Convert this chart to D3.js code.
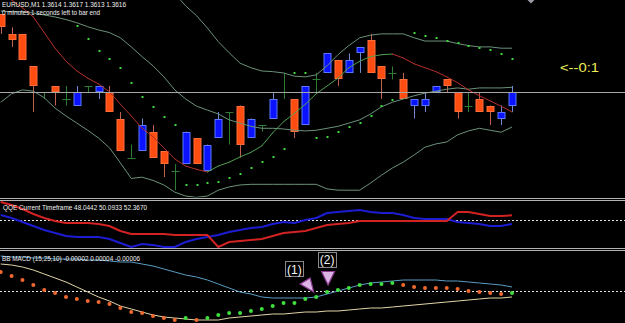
<!DOCTYPE html>
<html><head><meta charset="utf-8">
<script src="https://cdn.jsdelivr.net/npm/d3@7/dist/d3.min.js"></script>
<style>html,body{margin:0;padding:0;background:#000;overflow:hidden}svg{display:block}</style>
</head><body>
<script>
// ---------- DATA ----------
const symbolTitle = "EURUSD,M1  1.3614 1.3617 1.3613 1.3616";
const timerText = "0 minutes 1 seconds left to bar end";
const qqeTitle = "QQE Current Timeframe 48.0442 50.0933 52.3670";
const macdTitle = "BB MACD (15,25,10) -0.00002 0.00004 -0.00006";
const countdownText = "<--0:1";
const bidPrice = 1.3616;

const opens  = [1.3628,1.3625,1.3625,1.3620,1.3616,1.3617,1.3615,1.3614,1.3617,1.3616,1.3616,1.3612,1.3606,1.3607,1.3610,1.3607,1.3604,1.3605,1.3609,1.3604,1.3609,1.3613,1.3614,1.3609,1.3611,1.3612,1.3616,1.3615,1.3611,1.3618,1.3619,1.3621,1.3619,1.3622,1.3624,1.3620,1.3619,1.3618,1.3614,1.3614,1.3616,1.3618,1.3616,1.3614,1.3615,1.3614,1.3612,1.3614];
const highs  = [1.3628,1.3626,1.3625,1.3620,1.3616,1.3617,1.3617,1.3617,1.3617,1.3617,1.3617,1.3613,1.3608,1.3612,1.3611,1.3607,1.3605,1.3610,1.3609,1.3608,1.3613,1.3613,1.3614,1.3612,1.3611,1.3616,1.3619,1.3615,1.3617,1.3619,1.3622,1.3621,1.3622,1.3623,1.3625,1.3620,1.3620,1.3619,1.3615,1.3616,1.3617,1.3618,1.3616,1.3616,1.3616,1.3614,1.3614,1.3617];
const lows   = [1.3625,1.3623,1.3621,1.3613,1.3615,1.3614,1.3614,1.3614,1.3616,1.3615,1.3613,1.3607,1.3606,1.3607,1.3606,1.3603,1.3601,1.3605,1.3605,1.3604,1.3609,1.3608,1.3606,1.3609,1.3610,1.3612,1.3615,1.3609,1.3611,1.3616,1.3619,1.3617,1.3619,1.3619,1.3619,1.3615,1.3618,1.3615,1.3612,1.3613,1.3616,1.3616,1.3612,1.3613,1.3613,1.3611,1.3611,1.3613];
const closes = [1.3626,1.3624,1.3621,1.3617,1.3616,1.3616,1.3615,1.3616,1.3617,1.3617,1.3613,1.3607,1.3606,1.3611,1.3606,1.3605,1.3604,1.3610,1.3605,1.3608,1.3612,1.3613,1.3608,1.3612,1.3611,1.3615,1.3616,1.3610,1.3617,1.3618,1.3622,1.3618,1.3621,1.3623,1.3619,1.3618,1.3619,1.3615,1.3615,1.3615,1.3617,1.3617,1.3613,1.3614,1.3613,1.3613,1.3613,1.3616];

const bbUpper  = [1.36425,1.36410,1.36404,1.36402,1.36407,1.36416,1.36419,1.36421,1.36419,1.36422,1.36428,1.36436,1.36432,1.36399,1.36376,1.36350,1.36312,1.36293,1.36278,1.36259,1.36238,1.36221,1.36205,1.36198,1.36193,1.36192,1.36190,1.36185,1.36184,1.36187,1.36201,1.36218,1.36232,1.36244,1.36248,1.36250,1.36250,1.36250,1.36244,1.36239,1.36239,1.36239,1.36235,1.36232,1.36230,1.36230,1.36228,1.36228];
const bbMiddle = [1.36285,1.36284,1.36284,1.36282,1.36279,1.36276,1.36272,1.36267,1.36261,1.36256,1.36252,1.36244,1.36230,1.36215,1.36201,1.36184,1.36164,1.36150,1.36139,1.36133,1.36127,1.36118,1.36113,1.36108,1.36105,1.36105,1.36104,1.36102,1.36101,1.36102,1.36105,1.36108,1.36113,1.36118,1.36127,1.36138,1.36145,1.36150,1.36155,1.36159,1.36162,1.36165,1.36167,1.36165,1.36167,1.36167,1.36167,1.36168];
const bbLower  = [1.36145,1.36158,1.36164,1.36162,1.36152,1.36136,1.36124,1.36113,1.36102,1.36090,1.36075,1.36052,1.36028,1.36030,1.36025,1.36018,1.36007,1.36001,1.35999,1.36001,1.36010,1.36015,1.36018,1.36019,1.36019,1.36019,1.36019,1.36019,1.36019,1.36019,1.36012,1.36010,1.36010,1.36010,1.36021,1.36033,1.36044,1.36053,1.36064,1.36076,1.36081,1.36084,1.36095,1.36101,1.36105,1.36102,1.36099,1.36107];
const maLine   = [1.36315,1.36302,1.36290,1.36276,1.36252,1.36228,1.36208,1.36193,1.36182,1.36173,1.36161,1.36142,1.36124,1.36105,1.36092,1.36075,1.36058,1.36047,1.36042,1.36038,1.36047,1.36053,1.36061,1.36068,1.36078,1.36098,1.36115,1.36128,1.36142,1.36158,1.36170,1.36182,1.36198,1.36208,1.36215,1.36218,1.36219,1.36213,1.36204,1.36198,1.36192,1.36184,1.36175,1.36164,1.36155,1.36147,1.36139,1.36130];
const sar      = [null,null,null,null,null,null,null,1.36262,1.36242,1.36224,1.36212,1.36198,1.36175,1.36153,1.36138,1.36122,1.36110,1.36018,1.36018,1.36021,1.36022,1.36028,1.36035,1.36044,1.36053,1.36061,1.36073,1.36190,1.36190,1.36090,1.36092,1.36099,1.36107,1.36113,1.36124,1.36139,1.36148,null,1.36252,1.36247,1.36244,1.36239,1.36236,1.36232,1.36228,1.36225,1.36219,1.36212];

const qqeRed  = [59,57.5,55.5,53,51,49.5,48.5,48.5,48.5,48,47,44.5,43,43,43,43,42.5,42.5,42.5,42.5,36.5,39,39.5,40,40.5,42,43.5,44,44.5,46,47.5,48,48.5,49.5,49.5,49.5,49.5,49.5,49.5,49.5,49.5,49.5,54,54,53,52,52,52.37];
const qqeBlue = [52.5,51,49,47,45,43.5,42,41.5,41.5,41.5,40.5,38.5,36.5,38,37.5,36.5,36.5,39,40.5,41.5,42.5,44,45,46,46.5,48,49,48.5,50,51,53.5,54,54.5,55,54,53.5,53.5,52.5,51,50.5,50.5,50.5,49,48.5,48,47,47,48.04];
const qqeLevel = 50;

const macdMain  = [19,15,11,6,1,-2,-6,-8,-10,-11,-13,-17,-21,-22,-25,-27,-29,-27,-29,-27,-24,-22,-22,-20,-18,-15,-12,-12,-8,-6,-1,1,3,6,7,7,8,6,4,3,3,3,2,0,-1,-2,-3,-2].map(v=>v*1e-5);
const macdUpper = [35,34,34,33,33,32,32,32,31,31,30,29,29,27,25,22,19,16,14,11,7,3,-1,-3,-6,-7,-7,-7,-7,-6,-3,0,3,6,8,9,10,11,11,11,11,10,10,9,8,7,6,4].map(v=>v*1e-5);
const macdLower = [27,26,24,21,17,13,9,4,-1,-6,-10,-15,-18,-21,-24,-26,-27,-28,-29,-29,-29,-27,-26,-25,-24,-23,-23,-22,-21,-21,-20,-20,-19,-18,-17,-17,-16,-15,-14,-13,-12,-11,-10,-9,-8,-7,-7,-6].map(v=>v*1e-5);

const signalBars  = [29, 30];
const signalNames = ["(1)", "(2)"];
const labelBars   = [27, 30];

// ---------- LAYOUT ----------
const W = 625, H = 323;
const svg = d3.select("body").append("svg").attr("width", W).attr("height", H).style("background", "#000");
const n = closes.length;
const x = d3.scaleLinear().domain([0, n - 1]).range([0.7, 512]);
const yP = d3.scaleLinear().domain([1.35998, 1.36302]).range([198, 0]);
const yQ = d3.scaleLinear().domain([35.5, 60]).range([249, 200]);
const yM = d3.scaleLinear().domain([-0.00032, 0.0004]).range([323, 251]);

const defs = svg.append("defs");
defs.append("clipPath").attr("id","cMain").append("rect").attr("x",0).attr("y",0).attr("width",W).attr("height",197.5);
defs.append("clipPath").attr("id","cQ").append("rect").attr("x",0).attr("y",201).attr("width",W).attr("height",47);
defs.append("clipPath").attr("id","cM").append("rect").attr("x",0).attr("y",251).attr("width",W).attr("height",72);

// separators
[198.5, 200.5, 248.5, 250.5].forEach(yy => {
  svg.append("line").attr("x1",0).attr("x2",W).attr("y1",yy).attr("y2",yy).attr("stroke","#b4b4b4").attr("stroke-width",1);
});

// ---------- MAIN PANEL ----------
const gMain = svg.append("g").attr("clip-path","url(#cMain)");
const idx = d3.range(n);
const lineP = arr => d3.line().defined(i => arr[i] != null).x(i => x(i)).y(i => yP(arr[i]))(idx);

// candles
const r4 = v => Math.round(v * 1e4);
idx.forEach(i => {
  const o = opens[i], c = closes[i], h = highs[i], l = lows[i];
  const cx = Math.round(x(i)) + 0.5;
  const kind = r4(c) > r4(o) ? "bull" : (r4(c) < r4(o) ? "bear" : "doji");
  const wickCol = kind === "bull" ? "#6f8ad0" : (kind === "bear" ? "#c0624e" : "#2f7d32");
  gMain.append("line").attr("x1",cx).attr("x2",cx).attr("y1",yP(h)).attr("y2",yP(l))
    .attr("stroke",wickCol).attr("stroke-width",1);
  if (kind === "doji") {
    gMain.append("line").attr("x1",cx-4).attr("x2",cx+4).attr("y1",Math.round(yP(o))+0.5).attr("y2",Math.round(yP(o))+0.5)
      .attr("stroke","#2f7d32").attr("stroke-width",1);
  } else {
    const top = Math.round(yP(Math.max(o,c))), bot = Math.round(yP(Math.min(o,c)));
    gMain.append("rect").attr("x",cx-3.5).attr("y",top+0.5).attr("width",7).attr("height",Math.max(1,bot-top-1))
      .attr("fill", kind === "bull" ? "#0a12ff" : "#ff4d12")
      .attr("stroke", kind === "bull" ? "#5a78ff" : "#ff6e3a").attr("stroke-width",1);
  }
});

// bands
[bbUpper, bbMiddle, bbLower].forEach(arr => {
  gMain.append("path").attr("d", lineP(arr)).attr("fill","none").attr("stroke","#6b927a").attr("stroke-width",1);
});
// colour-changing MA
for (let i = 0; i < n - 1; i++) {
  const falling = maLine[i+1] < maLine[i];
  gMain.append("line").attr("x1",x(i)).attr("y1",yP(maLine[i])).attr("x2",x(i+1)).attr("y2",yP(maLine[i+1]))
    .attr("stroke", falling ? "#b3302c" : "#4f9e50").attr("stroke-width",1).attr("stroke-linecap","round");
}
// SAR dots
idx.filter(i => sar[i] != null).forEach(i => {
  gMain.append("rect").attr("x",Math.round(x(i))-0.5).attr("y",Math.round(yP(sar[i]))-1).attr("width",2).attr("height",2).attr("fill","#3fd83f");
});
// bid line
gMain.append("line").attr("x1",0).attr("x2",W).attr("y1",Math.round(yP(bidPrice))+0.5).attr("y2",Math.round(yP(bidPrice))+0.5)
  .attr("stroke","#a6a6a6").attr("stroke-width",1);
// chart shift marker
gMain.append("path").attr("d","M527.5,0 L534.5,0 L531,3.5 Z").attr("fill","#9a9aa6");

// texts
const txt = (s, xx, yy, len, size, col) => svg.append("text").attr("x",xx).attr("y",yy).text(s)
  .attr("font-family","'Liberation Sans', Arial, sans-serif").attr("font-size",size).attr("fill",col)
  .attr("textLength",len).attr("lengthAdjust","spacingAndGlyphs");
txt(symbolTitle, 2, 7.2, 124, 6.6, "#f0f0f0");
txt(timerText, 2, 15, 98, 6.6, "#f0f0f0");
svg.append("text").attr("x",560).attr("y",72).text(countdownText)
  .attr("font-family","'Liberation Sans', Arial, sans-serif").attr("font-size",12.5).attr("fill","#eded55")
  .attr("textLength",39).attr("lengthAdjust","spacingAndGlyphs");

// ---------- QQE PANEL ----------
const gQ = svg.append("g").attr("clip-path","url(#cQ)");
gQ.append("line").attr("x1",0).attr("x2",W).attr("y1",Math.round(yQ(qqeLevel))+0.5).attr("y2",Math.round(yQ(qqeLevel))+0.5)
  .attr("stroke","#e6e6e6").attr("stroke-dasharray","2,2");
const lineQ = arr => d3.line().x(i => x(i)).y(i => yQ(arr[i]))(idx);
gQ.append("path").attr("d", lineQ(qqeBlue)).attr("fill","none").attr("stroke","#1c1cd2").attr("stroke-width",2);
gQ.append("path").attr("d", lineQ(qqeRed)).attr("fill","none").attr("stroke","#d22222").attr("stroke-width",2);
txt(qqeTitle, 3, 210, 144, 7.5, "#f0f0f0");

// ---------- MACD PANEL ----------
const gM = svg.append("g").attr("clip-path","url(#cM)");
gM.append("line").attr("x1",0).attr("x2",W).attr("y1",Math.round(yM(0))+0.5).attr("y2",Math.round(yM(0))+0.5)
  .attr("stroke","#e6e6e6").attr("stroke-dasharray","2,2");
const lineM = arr => d3.line().x(i => x(i)).y(i => yM(arr[i]))(idx);
gM.append("path").attr("d", lineM(macdUpper)).attr("fill","none").attr("stroke","#5a9cc4").attr("stroke-width",1);
gM.append("path").attr("d", lineM(macdLower)).attr("fill","none").attr("stroke","#e2d6a6").attr("stroke-width",1);
let prevCol = "#f2692f";
idx.forEach(i => {
  let col = prevCol;
  if (i > 0) {
    if (macdMain[i] > macdMain[i-1] + 1e-9) col = "#3ee03e";
    else if (macdMain[i] < macdMain[i-1] - 1e-9) col = "#f2692f";
  }
  prevCol = col;
  gM.append("circle").attr("cx",x(i)).attr("cy",yM(macdMain[i])).attr("r",2).attr("fill",col);
});
txt(macdTitle, 2, 260.5, 138, 7.5, "#f0f0f0");

// signal arrows
const a1x = x(signalBars[0]), a1y = yM(macdMain[signalBars[0]]);
gM.append("path").attr("d",`M${a1x-16},${a1y-13} L${a1x-6},${a1y-19} L${a1x-2.5},${a1y-5} Z`)
  .attr("fill","#dcb4e6").attr("stroke","#8c3c92").attr("stroke-width",1.2);
const a2x = x(signalBars[1]), a2y = yM(macdMain[signalBars[1]]);
gM.append("path").attr("d",`M${a2x-5.5},${a2y-20.5} L${a2x+7.5},${a2y-20.5} L${a2x+1},${a2y-7} Z`)
  .attr("fill","#dcb4e6").attr("stroke","#8c3c92").attr("stroke-width",1.2);
// labels
const labYs = [269, 259.5];
labelBars.forEach((b, k) => {
  const cx = x(b), cy = labYs[k];
  svg.append("rect").attr("x",Math.round(cx-9)+0.5).attr("y",Math.round(cy-8)+0.5).attr("width",18).attr("height",15)
    .attr("fill","#000").attr("stroke","#8a8a8a").attr("stroke-width",1);
  svg.append("text").attr("x",cx).attr("y",cy+4.5).attr("text-anchor","middle").text(signalNames[k])
    .attr("font-family","'Liberation Sans', Arial, sans-serif").attr("font-size",12).attr("fill","#f4f4f4");
});
</script>
</body></html>
